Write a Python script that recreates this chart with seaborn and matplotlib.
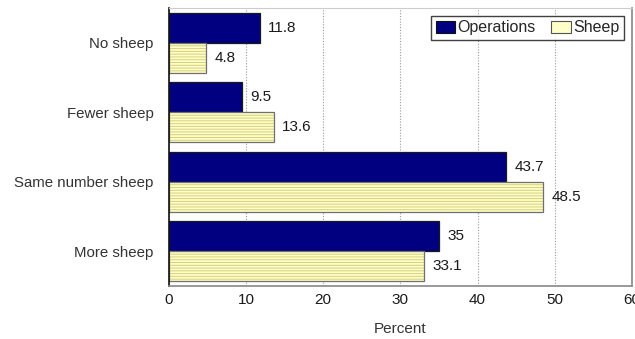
import matplotlib
matplotlib.use("Agg")
import matplotlib.pyplot as plt
import seaborn as sns
import pandas as pd
from matplotlib.patches import Patch

categories = ["No sheep", "Fewer sheep", "Same number sheep", "More sheep"]
operations = [11.8, 9.5, 43.7, 35]
sheep = [4.8, 13.6, 48.5, 33.1]
series_names = ["Operations", "Sheep"]
x_ticks = [0, 10, 20, 30, 40, 50, 60]

df = pd.DataFrame({
    "category": categories * 2,
    "series": [series_names[0]] * len(categories) + [series_names[1]] * len(categories),
    "value": operations + sheep,
})

sns.set_theme(style="white")
plt.rcParams["font.family"] = ["Liberation Sans", "DejaVu Sans"]
plt.rcParams["hatch.linewidth"] = 0.7

navy = "#000080"
pale_yellow = "#FFFFC8"

fig = plt.figure(figsize=(6.35, 3.39), dpi=100)
ax = fig.add_axes([0.266, 0.156, 0.729, 0.820])

sns.barplot(data=df, y="category", x="value", hue="series", order=categories,
            hue_order=series_names, palette=[navy, pale_yellow], orient="h",
            width=0.86, saturation=1, legend=False, ax=ax)

for cont, name in zip(ax.containers, series_names):
    for bar in cont:
        if name == "Sheep":
            bar.set_hatch("------")
            bar.set_edgecolor("#6f6f6f")
            bar._hatch_color = matplotlib.colors.to_rgba("#D6CE80")
        else:
            bar.set_edgecolor("#1a1a1a")
        bar.set_linewidth(0.9)
    ax.bar_label(cont, fmt="%g", padding=6, fontsize=11, color="#1a1a1a")

ax.set_xlim(0, 60)
ax.set_xticks(x_ticks)
ax.set_xticklabels([str(t) for t in x_ticks], fontsize=11, color="#1a1a1a")
ax.tick_params(axis="y", labelsize=10.8, colors="#333333", length=0, pad=11)
ax.tick_params(axis="x", length=0, pad=5)
ax.set_ylabel("")
ax.set_xlabel("Percent", fontsize=11, color="#333333", labelpad=11)

ax.xaxis.grid(True, linestyle=(0, (1, 1.5)), color="#999999", linewidth=0.8)
ax.set_axisbelow(True)

for side, sp in ax.spines.items():
    sp.set_visible(True)
    sp.set_linewidth(1.2)
    sp.set_color("#888888")
ax.spines["left"].set_color("#111111")
ax.spines["top"].set_color("#cccccc")
ax.spines["top"].set_linewidth(0.8)

handles = [Patch(facecolor=navy, edgecolor="#111111", linewidth=0.8),
           Patch(facecolor=pale_yellow, edgecolor="#555555", linewidth=0.8)]
leg = ax.legend(handles, series_names, ncol=2, loc="upper right",
                bbox_to_anchor=(0.99, 0.985), frameon=True, fancybox=False,
                fontsize=11.5, handlelength=1.2, handleheight=0.8,
                handletextpad=0.15, columnspacing=1.0, borderpad=0.3,
                borderaxespad=0.2)
leg.get_frame().set_edgecolor("#111111")
leg.get_frame().set_linewidth(1.0)

fig.savefig("out.png", dpi=100)
